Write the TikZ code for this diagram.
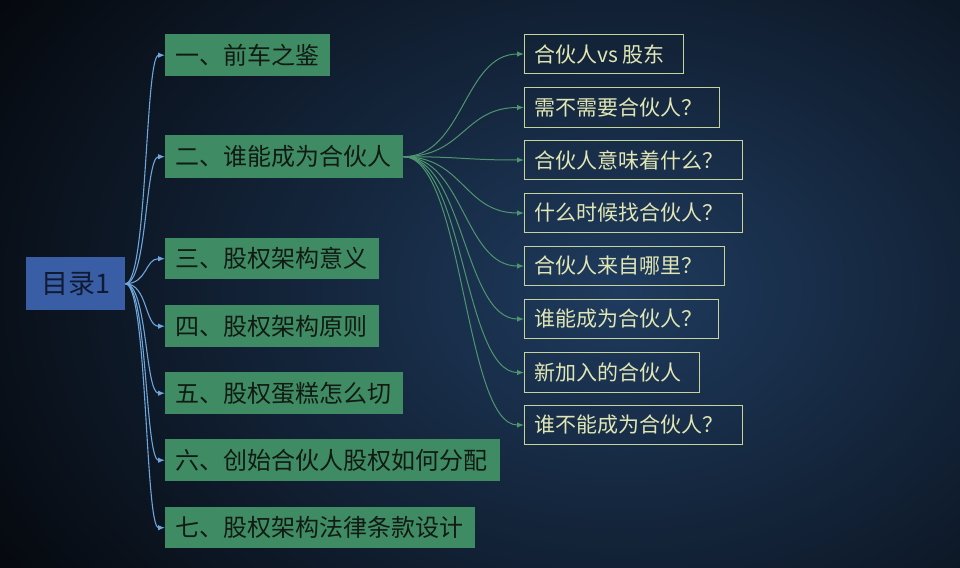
\documentclass[tikz,border=0pt]{standalone}
\usepackage{fontspec}
\setmainfont{Noto Sans CJK SC}
\usetikzlibrary{arrows.meta}
\definecolor{bgin}{HTML}{1F3B5E}
\definecolor{bgout}{HTML}{05080D}
\definecolor{rootfill}{HTML}{3A5EA6}
\definecolor{roottext}{HTML}{0F1A33}
\definecolor{lonefill}{HTML}{3F8C64}
\definecolor{lonetext}{HTML}{121A14}
\definecolor{blueline}{HTML}{6EA5DA}
\definecolor{greenline}{HTML}{4E9670}
\definecolor{rbord}{HTML}{C6D49C}
\definecolor{rtext}{HTML}{E0E6B4}
\newcommand\mybox[7]{\node[#6, anchor=north west, minimum width=#4pt, minimum height=#5pt] (#1) at (#2,#3) {\makebox[\dimexpr#4pt-20pt\relax][l]{#7}};}
\tikzset{
  rootbox/.style={fill=rootfill, text=roottext, inner xsep=10pt, inner ysep=0pt, font=\fontsize{27}{30}\selectfont},
  lonebox/.style={fill=lonefill, text=lonetext, inner xsep=10pt, inner ysep=0pt, font=\fontsize{24}{27}\selectfont},
  rbox/.style={draw=rbord, line width=1pt, text=rtext, inner xsep=10pt, inner ysep=0pt, font=\fontsize{21}{24}\selectfont},
  bluearrow/.style={draw=blueline, line width=1.1pt, -{Latex[length=7pt,width=5.5pt]}},
  greenarrow/.style={draw=greenline, line width=1pt, -{Latex[length=7pt,width=5.5pt]}}
}
\begin{document}
\begin{tikzpicture}[x=1pt,y=-1pt]
\useasboundingbox (0,0) rectangle (960,567);
\begin{scope}
\clip (0,0) rectangle (960,567);
\shade[inner color=bgin, outer color=bgout] (-120,-250) rectangle (1360,830);
\end{scope}
% root
\node[rootbox, anchor=north west, minimum width=99pt, minimum height=53pt] (root) at (26,257) {目录1};
% level 1
\mybox{a1}{165}{34}{165}{42}{lonebox}{一、前车之鉴}
\mybox{a2}{165}{135}{238}{43}{lonebox}{二、谁能成为合伙人}
\mybox{a3}{165}{238}{214}{41}{lonebox}{三、股权架构意义}
\mybox{a4}{165}{305}{214}{42}{lonebox}{四、股权架构原则}
\mybox{a5}{165}{372}{238}{42}{lonebox}{五、股权蛋糕怎么切}
\mybox{a6}{165}{439}{335}{42}{lonebox}{六、创始合伙人股权如何分配}
\mybox{a7}{165}{507}{310}{41}{lonebox}{七、股权架构法律条款设计}
% level 2
\mybox{b1}{524}{34}{159}{39}{rbox}{合伙人vs 股东}
\mybox{b2}{524}{87}{195}{40}{rbox}{需不需要合伙人？}
\mybox{b3}{524}{140}{218}{39}{rbox}{合伙人意味着什么？}
\mybox{b4}{524}{193}{218}{39}{rbox}{什么时候找合伙人？}
\mybox{b5}{524}{246}{200}{39}{rbox}{合伙人来自哪里？}
\mybox{b6}{524}{299}{194}{39}{rbox}{谁能成为合伙人？}
\mybox{b7}{524}{352}{175}{40}{rbox}{新加入的合伙人}
\mybox{b8}{524}{405}{218}{39}{rbox}{谁不能成为合伙人？}
% connectors root -> level 1
\foreach \t in {a1,a2,a3,a4,a5,a6,a7}{
  \draw[bluearrow] (root.east) .. controls +(22,0) and +(-20,0) .. (\t.west);
}
% connectors a2 -> level 2
\foreach \t in {b1,b2,b3,b4,b5,b6,b7,b8}{
  \draw[greenarrow] (a2.east) .. controls +(60,0) and +(-60,0) .. (\t.west);
}
\end{tikzpicture}
\end{document}
